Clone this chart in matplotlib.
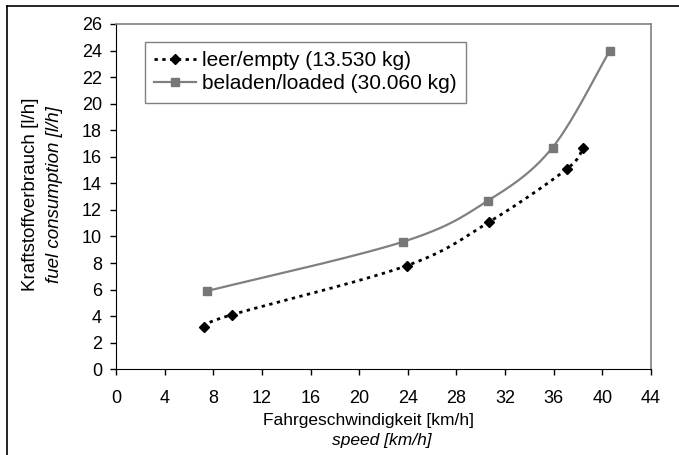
import numpy as np
import matplotlib.pyplot as plt
from matplotlib.lines import Line2D

plt.rcParams['font.family'] = ['Liberation Sans', 'DejaVu Sans']

# values
speed_empty = [7.2, 9.5, 23.9, 30.7, 37.1, 38.4]
fuel_empty = [3.2, 4.1, 7.8, 11.1, 15.1, 16.7]
speed_loaded = [7.5, 23.6, 30.6, 35.9, 40.6]
fuel_loaded = [5.9, 9.6, 12.7, 16.7, 24.0]
x_ticks = list(range(0, 45, 4))
y_ticks = list(range(0, 27, 2))
series_labels = ['leer/empty (13.530 kg)', 'beladen/loaded (30.060 kg)']


def smooth(x, y, n=40):
    # Excel style smoothed line: cubic bezier through the given points
    p = np.column_stack([x, y]).astype(float)
    p = np.vstack([p[0], p, p[-1]])
    t = np.linspace(0, 1, n)[:, None]
    segs = []
    for i in range(1, len(p) - 2):
        p0, p1, p2, p3 = p[i - 1], p[i], p[i + 1], p[i + 2]
        c1 = p1 + (p2 - p0) / 6
        c2 = p2 - (p3 - p1) / 6
        segs.append((1 - t)**3 * p1 + 3 * (1 - t)**2 * t * c1
                    + 3 * (1 - t) * t**2 * c2 + t**3 * p2)
    s = np.vstack(segs)
    return s[:, 0], s[:, 1]


fig = plt.figure(figsize=(6.79, 4.55), dpi=100)
ax = fig.add_axes([116 / 679, 1 - 369.3 / 455, 535 / 679, 345.3 / 455])

gray = '#808080'
dots = (0, (1.2, 1.6))

xs, ys = smooth(speed_empty, fuel_empty)
ax.plot(xs, ys, color='black', lw=2, linestyle=dots)
ax.plot(speed_empty, fuel_empty, linestyle='none', marker='D', ms=5.5,
        color='black')

xs, ys = smooth(speed_loaded, fuel_loaded)
ax.plot(xs, ys, color=gray, lw=1.6)
ax.plot(speed_loaded, fuel_loaded, linestyle='none', marker='s', ms=6,
        color='#777777')

ax.set_xlim(0, 44)
ax.set_ylim(0, 26)
ax.set_xticks(x_ticks)
ax.set_yticks(y_ticks)
ax.tick_params(direction='out', length=4, width=1, labelsize=13)
ax.tick_params(axis='x', pad=11)
ax.tick_params(axis='y', pad=6)

ax.spines['left'].set_color('black')
ax.spines['bottom'].set_color('black')
for s in ['top', 'right']:
    ax.spines[s].set_color(gray)
    ax.spines[s].set_linewidth(1.2)

handles = [
    Line2D([], [], color='black', lw=2, linestyle=dots, marker='D', ms=5,
           markevery=[1]),
    Line2D([], [], color=gray, lw=1.6, marker='s', ms=5.5,
           markerfacecolor='#777777', markeredgecolor='#777777',
           markevery=[1]),
]
leg = ax.legend(handles, series_labels, loc='upper left',
                bbox_to_anchor=(0.054, 0.948), borderaxespad=0,
                fontsize=15, fancybox=False, framealpha=1,
                handlelength=2.0, handletextpad=0.3, labelspacing=0.2,
                borderpad=0.45)
leg.get_frame().set_edgecolor(gray)
leg.get_frame().set_linewidth(1)

fig.text(31 / 679, 0.572, 'Kraftstoffverbrauch [l/h]', rotation=90,
         ha='center', va='center', fontsize=13.5)
fig.text(55 / 679, 0.572, 'fuel consumption [l/h]', rotation=90,
         ha='center', va='center', fontsize=13.5, style='italic')
fig.text(369 / 679, 1 - 421 / 455, 'Fahrgeschwindigkeit [km/h]',
         ha='center', va='center', fontsize=12.5)
fig.text(382 / 679, 1 - 441 / 455, 'speed [km/h]',
         ha='center', va='center', fontsize=12.5, style='italic')

# outer frame lines (left and top) as in the source image
fig.add_artist(Line2D([7 / 679, 7 / 679], [0, 1 - 6 / 455],
                      color='black', lw=1.2))
fig.add_artist(Line2D([7 / 679, 1], [1 - 6 / 455, 1 - 6 / 455],
                      color='black', lw=1.2))

fig.savefig('out.png', dpi=100)
